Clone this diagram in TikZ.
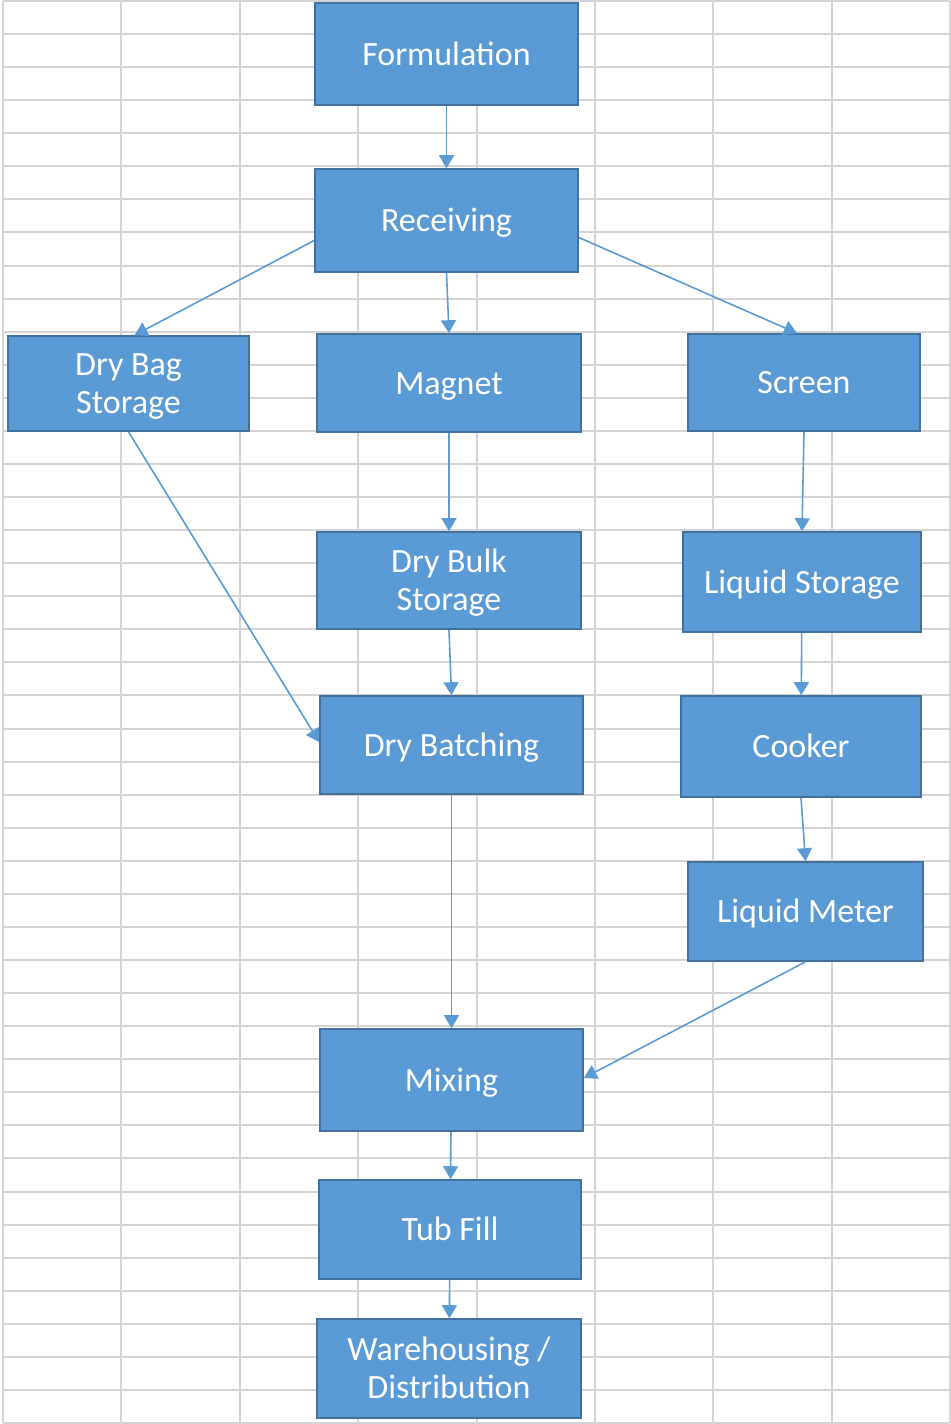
\documentclass[tikz,border=0pt]{standalone}
\usepackage{fontspec}
\setmainfont{Carlito}
\usetikzlibrary{arrows.meta}
\definecolor{stagefill}{HTML}{5B9BD5}
\definecolor{stageline}{HTML}{41719C}
\definecolor{gridgray}{HTML}{D4D4D4}
\tikzset{
  boxsize/.style 2 args={minimum width=#1*0.5pt, minimum height=#2*0.5pt},
  stage/.style={draw=stageline, line width=0.8pt, fill=stagefill, text=white,
    align=center, inner sep=0pt, text height=12pt, text depth=1pt,
    font=\fontsize{17}{19}\selectfont},
  twoline/.style={text height=31pt}, % two text lines
  flow/.style={->, draw=stagefill, line width=0.8pt}
}
\begin{document}
\begin{tikzpicture}[x=0.5pt, y=-0.5pt,
    >={Triangle[width=7.5pt,length=6.5pt]}]
  \useasboundingbox (0,0) rectangle (951,1424);
  % sheet grid
  \foreach \r in {0,...,43}
    \draw[gridgray, line width=1pt] (3,1+\r*33.07) -- (950,1+\r*33.07);
  \foreach \c in {0,...,8}
    \draw[gridgray, line width=1pt] (3+\c*118.4,1) -- (3+\c*118.4,1423);
  % stages
  \node[stage, boxsize={263}{102}] (form)   at (446.5,54)    {Formulation};
  \node[stage, boxsize={263}{103}] (recv)   at (446.5,220.5) {Receiving};
  \node[stage, twoline, boxsize={241}{95}]  (bag)    at (128.5,383.5) {Dry Bag\\Storage};
  \node[stage, boxsize={264}{98}]  (magnet) at (449,383)     {Magnet};
  \node[stage, boxsize={232}{97}]  (screen) at (804,382.5)   {Screen};
  \node[stage, twoline, boxsize={264}{97}]  (bulk)   at (449,580.5)   {Dry Bulk\\Storage};
  \node[stage, boxsize={238}{100}] (lstore) at (802,582)     {Liquid Storage};
  \node[stage, boxsize={263}{98}]  (batch)  at (451.5,745)   {Dry Batching};
  \node[stage, boxsize={240}{101}] (cooker) at (801,746.5)   {Cooker};
  \node[stage, boxsize={235}{99}]  (meter)  at (805.5,911.5) {Liquid Meter};
  \node[stage, boxsize={263}{102}] (mix)    at (451.5,1080)  {Mixing};
  \node[stage, boxsize={262}{99}]  (tub)    at (450,1229.5)  {Tub Fill};
  \node[stage, twoline, boxsize={264}{99}]  (ware)   at (449,1368.5)  {Warehousing /\\Distribution};
  % flows
  \draw[flow] (form) -- (recv);
  \draw[flow] ([yshift=-10pt]recv.west) -- ([xshift=3pt]bag.north);
  \draw[flow] (recv.south) -- (magnet.north);
  \draw[flow] ([yshift=-8.5pt]recv.east) -- ([xshift=-3.5pt]screen.north);
  \draw[flow] (bag.south) -- ([yshift=1.5pt]batch.west);
  \draw[flow] (magnet) -- (bulk);
  \draw[flow] (screen.south) -- (lstore.north);
  \draw[flow] (bulk.south) -- (batch.north);
  \draw[flow] (lstore) -- (cooker);
  \draw[flow] (cooker.south) -- (meter.north);
  \draw[flow] (batch) -- (mix);
  \draw[flow] (meter.south) -- ([yshift=1pt]mix.east);
  \draw[flow] (mix) -- (tub);
  \draw[flow] (tub) -- (ware);
\end{tikzpicture}
\end{document}
